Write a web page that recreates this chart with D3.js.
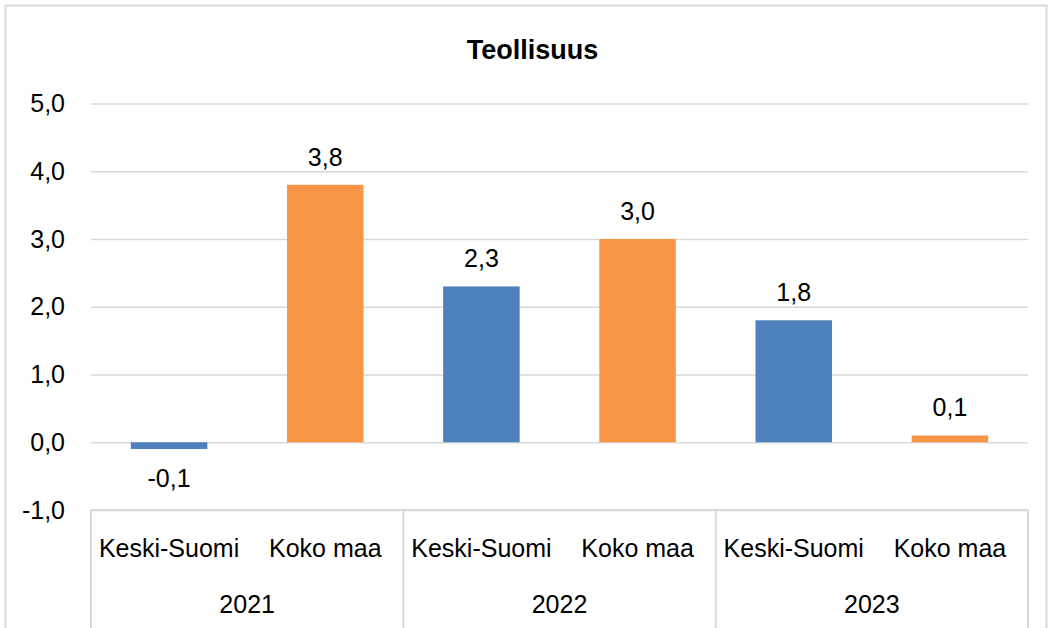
<!DOCTYPE html>
<html>
<head>
<meta charset="utf-8">
<script src="https://cdn.jsdelivr.net/npm/d3@7"></script>
<style>
  body { margin: 0; background: #fff; }
  svg { display: block; font-family: "Liberation Sans", Arial, sans-serif; }
</style>
</head>
<body>
<script>
(function(d3) {
  var years = ["2021", "2022", "2023"];
  var regions = ["Keski-Suomi", "Koko maa"];
  var keskiSuomi = [-0.1, 2.3, 1.8];
  var kokoMaa = [3.8, 3.0, 0.1];
  var yTicks = [-1, 0, 1, 2, 3, 4, 5];
  var title = "Teollisuus";

  var COLORS = {"Keski-Suomi": "#4f81bd", "Koko maa": "#f79646"};
  var GRID = "#d9d9d9";
  var FS = "25px";

  var W = 1053, H = 628;
  var left = 91, right = 1028, top = 103.5, bottom = 510;

  var fi = d3.formatLocale({decimal: ",", thousands: " ", grouping: [3], currency: ["", ""], minus: "-"});
  var fmt = fi.format(".1f");

  // flatten year x region into rows
  var rows = [];
  years.forEach(function(yr, i) {
    rows.push({key: yr + "|" + regions[0], year: yr, region: regions[0], v: keskiSuomi[i]});
    rows.push({key: yr + "|" + regions[1], year: yr, region: regions[1], v: kokoMaa[i]});
  });

  var svg = d3.select("body").append("svg").attr("width", W).attr("height", H);

  // chart border
  svg.append("rect")
    .attr("x", 5.5).attr("y", 5.5).attr("width", 1041).attr("height", 700)
    .attr("fill", "#fff").attr("stroke", GRID).attr("stroke-width", 2);

  var x = d3.scaleBand()
    .domain(rows.map(function(d) { return d.key; }))
    .range([left, right])
    .paddingInner(0.51).paddingOuter(0.255);

  var xYear = d3.scaleBand().domain(years).range([left, right]);

  var y = d3.scaleLinear().domain([-1, 5]).range([bottom, top]);

  // gridlines + y labels
  var yAxis = d3.axisLeft(y).tickValues(yTicks).tickFormat(fmt)
    .tickSize(-(right - left)).tickPadding(26);
  var gy = svg.append("g").attr("transform", "translate(" + left + ",0)").call(yAxis);
  gy.select(".domain").remove();
  gy.selectAll(".tick line").attr("stroke", GRID).attr("stroke-width", 1.5);
  gy.selectAll(".tick text")
    .attr("fill", "#000").style("font-size", FS)
    .style("font-family", "'Liberation Sans', Arial, sans-serif");

  // category axis line and group separators
  svg.append("line")
    .attr("x1", left).attr("x2", right).attr("y1", y(-1)).attr("y2", y(-1))
    .attr("stroke", GRID).attr("stroke-width", 2);
  var seps = years.map(function(yr) { return xYear(yr); }).concat([right]);
  svg.selectAll("line.sep").data(seps).enter().append("line")
    .attr("class", "sep")
    .attr("x1", function(d) { return d; }).attr("x2", function(d) { return d; })
    .attr("y1", y(-1)).attr("y2", H)
    .attr("stroke", GRID).attr("stroke-width", 2);

  // bars
  svg.selectAll("rect.bar").data(rows).enter().append("rect")
    .attr("class", "bar")
    .attr("x", function(d) { return x(d.key); })
    .attr("width", x.bandwidth())
    .attr("y", function(d) { return y(Math.max(0, d.v)); })
    .attr("height", function(d) { return Math.abs(y(d.v) - y(0)); })
    .attr("fill", function(d) { return COLORS[d.region]; });

  // value labels
  svg.selectAll("text.val").data(rows).enter().append("text")
    .attr("class", "val")
    .attr("x", function(d) { return x(d.key) + x.bandwidth() / 2; })
    .attr("y", function(d) { return d.v >= 0 ? y(d.v) - 19 : y(d.v) + 38; })
    .attr("text-anchor", "middle")
    .style("font-size", FS)
    .text(function(d) { return fmt(d.v); });

  // category labels
  svg.selectAll("text.cat").data(rows).enter().append("text")
    .attr("class", "cat")
    .attr("x", function(d) { return x(d.key) + x.bandwidth() / 2; })
    .attr("y", 557)
    .attr("text-anchor", "middle")
    .style("font-size", FS)
    .text(function(d) { return d.region; });

  svg.selectAll("text.year").data(years).enter().append("text")
    .attr("class", "year")
    .attr("x", function(d) { return xYear(d) + xYear.bandwidth() / 2; })
    .attr("y", 613)
    .attr("text-anchor", "middle")
    .style("font-size", FS)
    .text(function(d) { return d; });

  // title
  svg.append("text")
    .attr("x", (left + right) / 2 - 27).attr("y", 59)
    .attr("text-anchor", "middle")
    .style("font-size", "27px").style("font-weight", "bold")
    .text(title);
})(d3);
</script>
</body>
</html>
